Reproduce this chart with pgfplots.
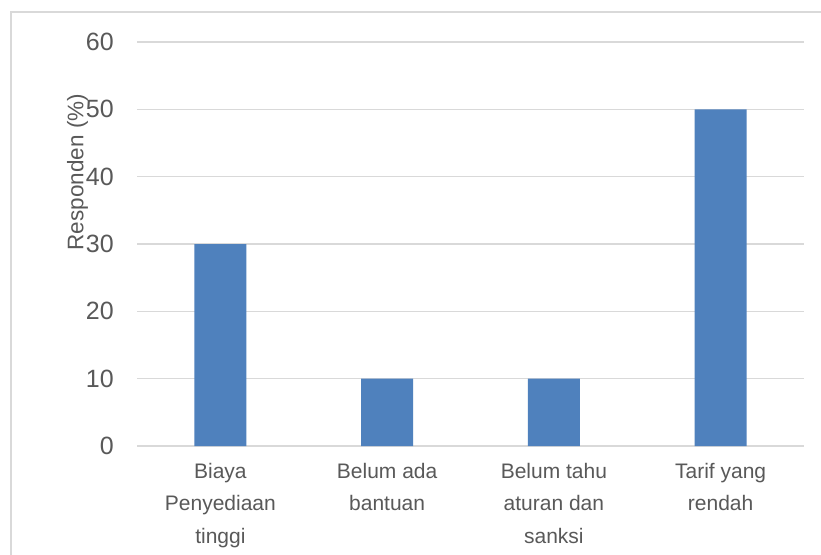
\documentclass[border=0pt]{standalone}
\usepackage{fontspec}
\setmainfont{Liberation Sans}
\usepackage{pgfplots}
\pgfplotsset{compat=1.18}
\definecolor{barblue}{HTML}{4F81BD}
\definecolor{gridgray}{HTML}{D9D9D9}
\definecolor{txtgray}{HTML}{595959}
\begin{document}
\begin{tikzpicture}[x=1pt,y=1pt]
\useasboundingbox (0,0) rectangle (821,554);
\fill[white] (0,0) rectangle (821,554);
\draw[gridgray, line width=1.5pt] (11,-10) -- (11,542) -- (830,542);
\begin{axis}[
  at={(137pt,108pt)}, anchor=south west,
  scale only axis, width=667pt, height=404pt,
  xmin=-0.5, xmax=3.5, ymin=0, ymax=60,
  ytick={0,10,...,60},
  xtick={0,1,2,3},
  xticklabels={{Biaya\\Penyediaan\\tinggi},{Belum ada\\bantuan},{Belum tahu\\aturan dan\\sanksi},{Tarif yang\\rendah}},
  axis line style={draw=none},
  major tick length=0pt,
  ymajorgrids, grid style={gridgray, line width=1.5pt},
  /pgf/number format/assume math mode=true,
  yticklabel style={font=\fontsize{25}{28}\selectfont, text=txtgray, inner sep=0pt, anchor=east, xshift=-23pt},
  xticklabel style={font=\fontsize{21}{32.5}\selectfont, text=txtgray, align=center, inner sep=0pt, anchor=north, yshift=-17pt},
  ylabel={Responden (\%)},
  ylabel style={at={(axis description cs:-0.089,0.678)}, anchor=center, rotate=0, font=\fontsize{22.5}{26}\selectfont, text=txtgray, inner sep=0pt},
  clip=false,
]
\addplot[ybar, bar width=52pt, bar shift=0pt, fill=barblue, draw=none] coordinates {(0,30) (1,10) (2,10) (3,50)};
\end{axis}
\end{tikzpicture}
\end{document}
